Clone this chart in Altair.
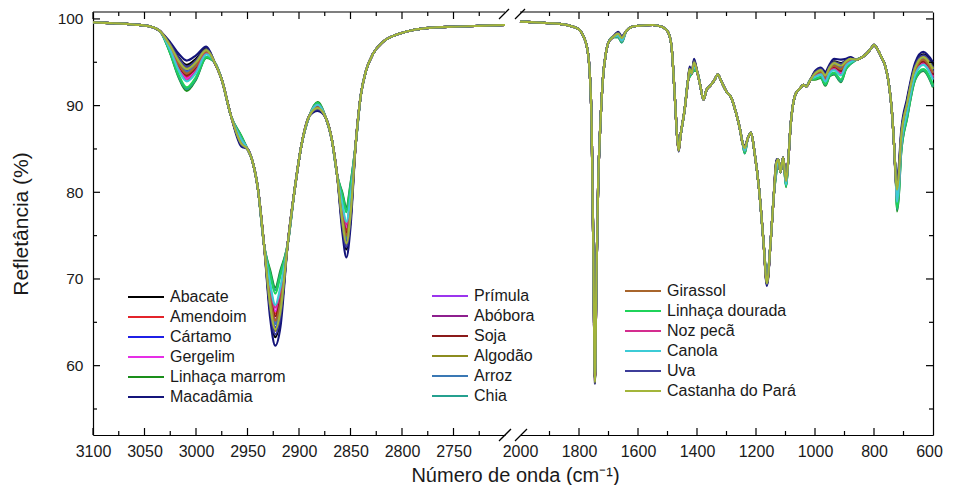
import altair as alt
import pandas as pd

oils = ["Abacate", "Amendoim", "Cártamo", "Gergelim", "Linhaça marrom", "Macadâmia",
        "Prímula", "Abóbora", "Soja", "Algodão", "Arroz", "Chia",
        "Girassol", "Linhaça dourada", "Noz pecã", "Canola", "Uva", "Castanha do Pará"]
colors = ["#000000", "#e3242b", "#1f1fe6", "#e62ee6", "#1a8f1a", "#14147a",
          "#9b35ee", "#8e1f8e", "#8b1a1a", "#8c8c1f", "#3a78b4", "#25a08f",
          "#a8652c", "#1fd35a", "#d42d8f", "#3ccbd6", "#3d3d99", "#a3b53a"]

# ---- left panel (3100-2700 cm-1): points where all spectra coincide
wn_left = [3100, 3080, 3060, 3045, 3035, 2982, 2975, 2966, 2950, 2946, 2940, 2934, 2911, 2904,
           2898, 2890, 2874, 2868, 2863, 2845, 2840, 2835, 2828, 2818, 2805, 2790, 2770, 2750,
           2725, 2700]
refl_left = [99.6, 99.5, 99.35, 99.15, 98.6, 95.0, 93.0, 88.8, 85.0, 83.9, 80.5, 74.0, 74.0, 80.5,
             85.2, 88.8, 88.6, 86.0, 82.0, 85.5, 91.2, 94.0, 96.0, 97.4, 98.2, 98.7, 99.0, 99.1,
             99.2, 99.3]
# points where the spectra differ (one value per oil, legend order)
feat_wn_left = [3025, 3017, 3009, 3000, 2990, 2956, 2928, 2923, 2918, 2882, 2858, 2854, 2850]
L3025 = [97.1, 96.6, 96.9, 96.5, 96.0, 97.3, 96.8, 96.7, 96.7, 97.0, 96.8, 96.1, 96.7, 96.1, 96.5, 96.4, 97.0, 96.9]
L3017 = [95.6, 94.5, 95.1, 94.4, 93.3, 96.0, 94.9, 94.8, 94.7, 95.3, 95.0, 93.4, 94.8, 93.6, 94.2, 94.1, 95.5, 95.2]
L3009 = [94.7, 93.3, 94.1, 93.1, 91.7, 95.2, 93.8, 93.6, 93.5, 94.3, 93.9, 91.9, 93.7, 92.1, 92.9, 92.8, 94.5, 94.2]
L3000 = [95.4, 94.3, 94.9, 94.1, 93.0, 95.8, 94.7, 94.5, 94.4, 95.1, 94.7, 93.1, 94.6, 93.3, 94.0, 93.8, 95.2, 95.0]
L2990 = [96.6, 96.1, 96.4, 96.0, 95.5, 96.8, 96.3, 96.2, 96.2, 96.5, 96.3, 95.6, 96.2, 95.6, 96.0, 95.9, 96.5, 96.4]
L2956 = [85.5, 86.0, 85.7, 86.0, 86.5, 85.3, 85.8, 85.8, 85.9, 85.6, 85.8, 86.4, 85.8, 86.4, 86.1, 86.1, 85.5, 85.6]
L2928 = [66.3, 68.5, 67.3, 68.8, 71.0, 65.5, 67.7, 68.0, 68.3, 66.9, 67.6, 70.7, 67.9, 70.5, 69.1, 69.4, 66.6, 67.0]
L2923 = [63.3, 66.0, 64.4, 66.3, 69.0, 62.3, 65.0, 65.3, 65.7, 64.0, 64.8, 68.7, 65.2, 68.3, 66.7, 67.0, 63.6, 64.2]
L2918 = [65.5, 68.1, 66.6, 68.4, 71.0, 64.5, 67.1, 67.4, 67.8, 66.1, 67.0, 70.7, 67.3, 70.4, 68.7, 69.1, 65.8, 66.3]
L2882 = [89.6, 90.0, 89.7, 90.0, 90.4, 89.4, 89.8, 89.9, 89.9, 89.7, 89.8, 90.3, 89.8, 90.3, 90.1, 90.1, 89.6, 89.7]
L2858 = [76.2, 78.0, 76.9, 78.2, 80.0, 75.5, 77.3, 77.5, 77.8, 76.6, 77.2, 79.8, 77.4, 79.6, 78.4, 78.7, 76.4, 76.8]
L2854 = [73.4, 75.7, 74.4, 76.0, 78.3, 72.5, 74.8, 75.1, 75.4, 74.0, 74.7, 78.0, 75.0, 77.7, 76.3, 76.6, 73.7, 74.1]
L2850 = [76.8, 78.8, 77.6, 79.0, 81.0, 76.0, 78.0, 78.3, 78.5, 77.3, 77.9, 80.8, 78.2, 80.5, 79.3, 79.5, 77.0, 77.4]
feat_left = [L3025, L3017, L3009, L3000, L2990, L2956, L2928, L2923, L2918, L2882, L2858, L2854, L2850]

# ---- right panel (2000-600 cm-1): points where all spectra coincide
wn_right = [2000, 1950, 1900, 1860, 1830, 1800, 1785, 1774, 1765, 1757, 1751, 1741, 1735, 1728,
            1718, 1708, 1700, 1685, 1640, 1620, 1600, 1550, 1520, 1500, 1487, 1476, 1467, 1456,
            1442, 1430, 1418, 1400, 1390, 1378, 1368, 1355, 1340, 1330, 1315, 1300, 1285, 1268,
            1255, 1245, 1228, 1217, 1205, 1190, 1175, 1150, 1140, 1124, 1117, 1108, 1090, 1082,
            1075, 1065, 1050, 1040, 1030, 1015, 860, 845, 825, 810, 800, 790, 775, 762, 750,
            740, 732, 726]
refl_right = [99.7, 99.6, 99.5, 99.4, 99.2, 98.8, 98.0, 96.9, 94.5, 87.5, 72.0, 70.0, 81.0, 87.5,
              93.5, 96.2, 97.3, 97.9, 98.6, 99.1, 99.2, 99.3, 99.1, 98.6, 97.0, 91.5, 86.3, 86.5,
              89.5, 93.0, 93.7, 94.0, 92.5, 90.7, 91.8, 92.3, 93.0, 93.6, 92.6, 91.6, 91.0, 89.2,
              87.4, 85.6, 86.2, 86.9, 84.6, 80.5, 74.5, 74.5, 79.5, 83.8, 82.3, 84.0, 84.0, 88.0,
              90.0, 91.4, 92.0, 92.4, 92.2, 93.0, 95.3, 95.5, 96.0, 96.6, 97.0, 96.6, 95.6, 94.6,
              92.6, 89.6, 85.5, 81.5]
feat_wn_right = [1746, 1667, 1655, 1462, 1425, 1410, 1238, 1163, 1131, 1098, 1000, 980, 965, 950,
                 935, 912, 895, 880, 722, 716, 708, 688, 660, 633, 600]
R1746 = [58.0, 58.3, 58.2, 58.4, 58.7, 57.9, 58.2, 58.3, 58.3, 58.1, 58.2, 58.7, 58.2, 58.6, 58.4, 58.5, 58.1, 58.1]
R1667 = [98.4, 98.2, 98.3, 98.1, 97.9, 98.5, 98.3, 98.2, 98.2, 98.4, 98.3, 97.9, 98.2, 98.0, 98.1, 98.1, 98.4, 98.3]
R1655 = [97.9, 97.6, 97.8, 97.6, 97.3, 98.0, 97.7, 97.7, 97.7, 97.8, 97.7, 97.3, 97.7, 97.4, 97.5, 97.5, 97.9, 97.8]
R1462 = [84.8, 85.0, 84.9, 85.0, 85.2, 84.7, 84.9, 84.9, 85.0, 84.8, 84.9, 85.2, 84.9, 85.2, 85.0, 85.1, 84.8, 84.8]
R1425 = [94.3, 93.8, 94.1, 93.8, 93.3, 94.5, 94.0, 94.0, 93.9, 94.2, 94.0, 93.4, 94.0, 93.4, 93.7, 93.7, 94.3, 94.2]
R1410 = [95.2, 94.6, 95.0, 94.6, 94.0, 95.4, 94.8, 94.8, 94.7, 95.1, 94.9, 94.1, 94.8, 94.1, 94.5, 94.4, 95.1, 95.0]
R1238 = [85.3, 84.9, 85.1, 84.9, 84.5, 85.4, 85.0, 85.0, 85.0, 85.2, 85.1, 84.5, 85.0, 84.6, 84.8, 84.8, 85.2, 85.1]
R1163 = [69.4, 69.8, 69.5, 69.8, 70.2, 69.2, 69.6, 69.7, 69.7, 69.5, 69.6, 70.2, 69.6, 70.1, 69.9, 69.9, 69.4, 69.5]
R1131 = [83.6, 83.0, 83.3, 82.9, 82.3, 83.8, 83.2, 83.1, 83.1, 83.4, 83.2, 82.4, 83.2, 82.5, 82.8, 82.8, 83.5, 83.4]
R1098 = [81.5, 81.1, 81.3, 81.0, 80.6, 81.6, 81.2, 81.2, 81.1, 81.4, 81.2, 80.7, 81.2, 80.7, 81.0, 80.9, 81.4, 81.3]
R1000 = [93.9, 93.5, 93.7, 93.4, 93.0, 94.0, 93.6, 93.6, 93.5, 93.8, 93.6, 93.1, 93.6, 93.1, 93.4, 93.3, 93.8, 93.7]
R980 = [94.2, 93.7, 94.0, 93.7, 93.2, 94.4, 93.9, 93.9, 93.8, 94.1, 93.9, 93.3, 93.9, 93.3, 93.6, 93.6, 94.2, 94.1]
R965 = [93.7, 93.0, 93.4, 92.9, 92.3, 93.9, 93.3, 93.2, 93.1, 93.5, 93.3, 92.4, 93.2, 92.5, 92.9, 92.8, 93.6, 93.5]
R950 = [94.6, 94.0, 94.4, 94.0, 93.4, 94.8, 94.2, 94.2, 94.1, 94.5, 94.3, 93.5, 94.2, 93.5, 93.9, 93.8, 94.5, 94.4]
R935 = [95.1, 94.4, 94.8, 94.3, 93.6, 95.4, 94.7, 94.6, 94.5, 95.0, 94.7, 93.7, 94.6, 93.8, 94.2, 94.1, 95.0, 94.9]
R912 = [94.9, 93.9, 94.5, 93.7, 92.7, 95.3, 94.3, 94.1, 94.0, 94.7, 94.3, 92.8, 94.2, 93.0, 93.6, 93.5, 94.8, 94.6]
R895 = [95.2, 94.7, 95.0, 94.7, 94.2, 95.4, 94.9, 94.9, 94.8, 95.1, 94.9, 94.3, 94.9, 94.3, 94.6, 94.6, 95.2, 95.1]
R880 = [95.5, 95.2, 95.3, 95.1, 94.8, 95.6, 95.3, 95.2, 95.2, 95.4, 95.3, 94.8, 95.3, 94.9, 95.1, 95.0, 95.4, 95.4]
R722 = [80.8, 79.4, 80.2, 79.2, 77.8, 81.3, 79.9, 79.7, 79.6, 80.4, 80.0, 78.0, 79.8, 78.2, 79.0, 78.9, 80.6, 80.3]
R716 = [82.5, 81.1, 81.9, 80.9, 79.5, 83.0, 81.6, 81.4, 81.3, 82.1, 81.7, 79.7, 81.5, 79.9, 80.7, 80.6, 82.3, 82.0]
R708 = [86.6, 85.6, 86.2, 85.5, 84.5, 87.0, 86.0, 85.9, 85.8, 86.4, 86.1, 84.6, 85.9, 84.8, 85.4, 85.3, 86.5, 86.3]
R688 = [90.5, 89.5, 90.1, 89.4, 88.5, 90.8, 89.9, 89.8, 89.7, 90.2, 89.9, 88.6, 89.8, 88.7, 89.3, 89.2, 90.3, 90.2]
R660 = [94.7, 93.9, 94.4, 93.8, 93.0, 95.0, 94.2, 94.1, 94.0, 94.5, 94.2, 93.1, 94.1, 93.2, 93.7, 93.6, 94.6, 94.4]
R633 = [95.9, 95.0, 95.5, 94.9, 94.0, 96.2, 95.3, 95.2, 95.1, 95.7, 95.4, 94.1, 95.3, 94.2, 94.8, 94.7, 95.8, 95.6]
R600 = [94.6, 93.4, 94.1, 93.3, 92.1, 95.0, 93.8, 93.7, 93.6, 94.3, 93.9, 92.2, 93.8, 92.4, 93.1, 93.0, 94.4, 94.2]
feat_right = [R1746, R1667, R1655, R1462, R1425, R1410, R1238, R1163, R1131, R1098, R1000, R980,
              R965, R950, R935, R912, R895, R880, R722, R716, R708, R688, R660, R633, R600]

# ---- tick values
y_major = [60, 70, 80, 90, 100]
y_minor = [55, 65, 75, 85, 95]
xl_major = [3100, 3050, 3000, 2950, 2900, 2850, 2800, 2750]
xl_minor = [3075, 3025, 2975, 2925, 2875, 2825, 2775, 2725]
xr_labels = [2000, 1800, 1600, 1400, 1200, 1000, 800, 600]
xr_major = [1800, 1600, 1400, 1200, 1000, 800]
xr_minor = [1900, 1700, 1500, 1300, 1100, 900, 700]


def build(common_wn, common_refl, f_wn, f_vals):
    rows = []
    for i, oil in enumerate(oils):
        for w, v in zip(common_wn, common_refl):
            rows.append({"oil": oil, "grp": i // 6, "wn": w, "refl": v})
        for w, col in zip(f_wn, f_vals):
            rows.append({"oil": oil, "grp": i // 6, "wn": w, "refl": col[i]})
    return pd.DataFrame(rows)


df_left = build(wn_left, refl_left, feat_wn_left, feat_left)
df_right = build(wn_right, refl_right, feat_wn_right, feat_right)

FONT = "Liberation Sans"
INK = "#1a1a1a"
W_L, W_R, H = 412, 413, 423
Y_SCALE = alt.Scale(domain=[52, 100.8], nice=False, zero=False)
XL_SCALE = alt.Scale(domain=[2700, 3100], reverse=True, nice=False, zero=False)
XR_SCALE = alt.Scale(domain=[600, 2000], reverse=True, nice=False, zero=False)
dummy = pd.DataFrame({"a": [0]})

axis_common = dict(ticks=False, grid=False, domain=True, domainColor="black", domainWidth=1.2,
                   labelFont=FONT, labelColor=INK)

xaxis_left = alt.Axis(values=xl_major, format="d", labelFlush=False, labelOverlap=False,
                      labelFontSize=16, labelPadding=8,
                      title="Número de onda (cm⁻¹)", titleFont=FONT, titleFontSize=20,
                      titleFontWeight="normal", titleColor=INK, titleX=422, titleY=46,
                      titleAlign="center", titleBaseline="alphabetic", **axis_common)
yaxis_left = alt.Axis(values=y_major, labelFontSize=15.5, labelPadding=10,
                      title="Refletância (%)", titleFont=FONT, titleFontSize=21,
                      titleFontWeight="normal", titleColor=INK, titlePadding=26, **axis_common)
xaxis_right = alt.Axis(values=xr_labels, format="d", labelFlush=False, labelOverlap=False,
                       labelFontSize=16, labelPadding=8, title=None,
                       labelOffset={"condition": {"test": "datum.value == 600", "value": -4}, "value": 0},
                       **axis_common)
yaxis_right = alt.Axis(orient="right", values=y_major, labels=False, title=None, **axis_common)


def make_legend(x, y):
    return alt.Legend(title=None, orient="none", legendX=x, legendY=y, symbolType="stroke",
                      symbolSize=1296, symbolStrokeWidth=2, labelFont=FONT, labelFontSize=16,
                      labelColor=INK, labelOffset=5, clipHeight=20, rowPadding=0, padding=0)


def line_layer(df, xscale, xaxis, yaxis, g, legend):
    names = oils[6 * g:6 * g + 6]
    cols = colors[6 * g:6 * g + 6]
    return alt.Chart(df[df.grp == g]).mark_line(strokeWidth=2.2, interpolate="monotone").encode(
        x=alt.X("wn:Q", scale=xscale, axis=xaxis),
        y=alt.Y("refl:Q", scale=Y_SCALE, axis=yaxis),
        color=alt.Color("oil:N", scale=alt.Scale(domain=names, range=cols), legend=legend),
        order=alt.Order("wn:Q", sort="descending"),
    )


def yticks(vals, x0, x1, yaxis):
    return alt.Chart(pd.DataFrame({"refl": vals})).mark_rule(color="black", strokeWidth=1.2).encode(
        y=alt.Y("refl:Q", scale=Y_SCALE, axis=yaxis), x=alt.value(x0), x2=alt.value(x1))


def xticks(vals, xscale, y0, y1, xaxis):
    return alt.Chart(pd.DataFrame({"wn": vals})).mark_rule(color="black", strokeWidth=1.2).encode(
        x=alt.X("wn:Q", scale=xscale, axis=xaxis), y=alt.value(y0), y2=alt.value(y1))


def seg(x0, y0, x1, y1, w=1.3):
    return alt.Chart(dummy).mark_rule(color="black", strokeWidth=w).encode(
        x=alt.value(x0), y=alt.value(y0), x2=alt.value(x1), y2=alt.value(y1))


left = alt.layer(
    line_layer(df_left, XL_SCALE, xaxis_left, yaxis_left, 0, make_legend(34, 275)),
    line_layer(df_left, XL_SCALE, xaxis_left, yaxis_left, 1, make_legend(338, 274)),
    line_layer(df_left, XL_SCALE, xaxis_left, yaxis_left, 2, None),
    seg(0, 0, W_L, 0, 1.2),
    yticks(y_major, 0, 7, yaxis_left), yticks(y_minor, 0, 4, yaxis_left),
    xticks(xl_major, XL_SCALE, 0, 7, xaxis_left), xticks(xl_minor, XL_SCALE, 0, 4, xaxis_left),
    xticks(xl_major, XL_SCALE, H, H - 7, xaxis_left), xticks(xl_minor, XL_SCALE, H, H - 4, xaxis_left),
    seg(W_L - 6, 7, W_L + 4, -3), seg(W_L - 6, H + 6, W_L + 6, H - 6),
).resolve_scale(color="independent").properties(width=W_L, height=H)

right = alt.layer(
    line_layer(df_right, XR_SCALE, xaxis_right, yaxis_right, 0, None),
    line_layer(df_right, XR_SCALE, xaxis_right, yaxis_right, 1, None),
    line_layer(df_right, XR_SCALE, xaxis_right, yaxis_right, 2, make_legend(104, 269)),
    seg(0, 0, W_R, 0, 1.2),
    yticks(y_major, W_R, W_R - 7, yaxis_right), yticks(y_minor, W_R, W_R - 4, yaxis_right),
    xticks(xr_major, XR_SCALE, 0, 7, xaxis_right), xticks(xr_minor, XR_SCALE, 0, 4, xaxis_right),
    xticks(xr_major, XR_SCALE, H, H - 7, xaxis_right), xticks(xr_minor, XR_SCALE, H, H - 4, xaxis_right),
    seg(-5, 7, 5, -3), seg(-5, H + 6, 7, H - 6),
).resolve_scale(color="independent").properties(width=W_R, height=H)

chart = alt.hconcat(left, right, spacing=15, bounds="flush").resolve_scale(
    color="independent", x="independent", y="independent"
).configure_view(stroke=None).properties(
    padding={"left": 2, "top": 0, "right": 0, "bottom": 0}, background="white"
)

chart.save("out.html", embed_options={"renderer": "svg", "actions": False})
